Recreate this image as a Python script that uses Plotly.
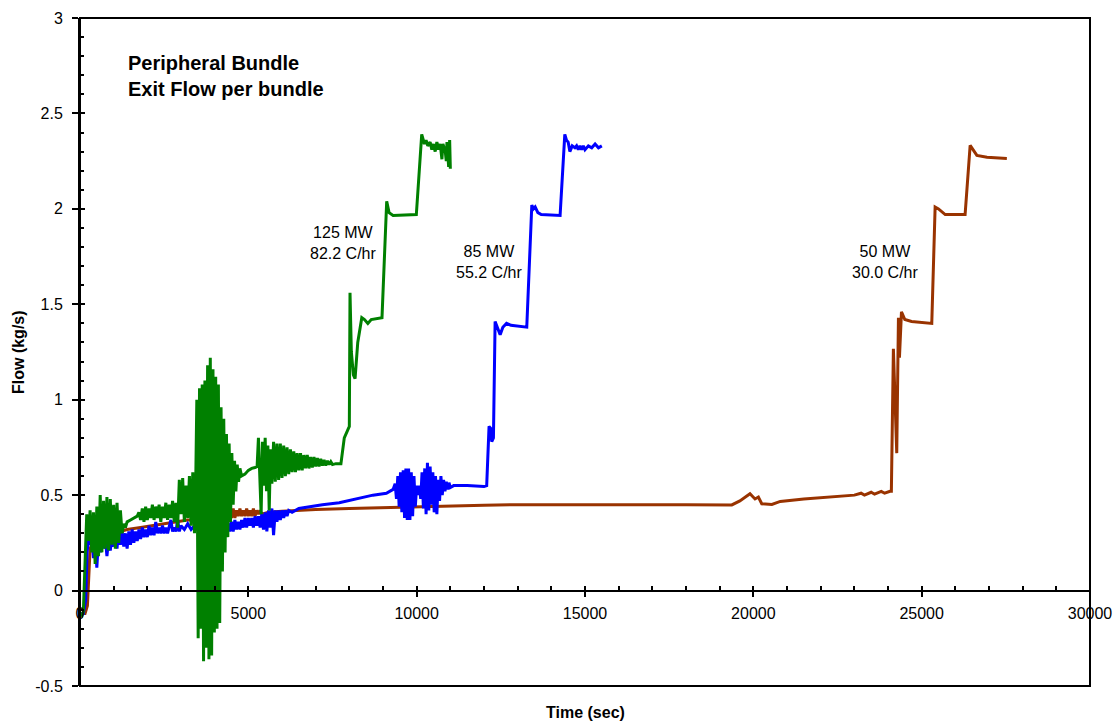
import plotly.graph_objects as go

# ---------------- data ----------------
x_tick_vals = [0, 5000, 10000, 15000, 20000, 25000, 30000]
x_tick_labels = ["0", "5000", "10000", "15000", "20000", "25000", "30000"]
y_tick_vals = [-0.5, 0, 0.5, 1, 1.5, 2, 2.5, 3]
y_tick_labels = ["-0.5", "0", "0.5", "1", "1.5", "2", "2.5", "3"]

# 125 MW run (green): (time s, flow kg/s)
green_125mw = [
    (0, -0.12), (60, -0.13), (100, -0.11), (130, 0.05), (160, 0.30), (200, 0.40), (250, 0.26),
    (300, 0.42), (350, 0.20), (400, 0.41), (450, 0.14), (500, 0.44), (550, 0.18), (600, 0.50),
    (650, 0.20), (700, 0.47), (750, 0.22), (800, 0.49), (850, 0.21), (900, 0.48), (950, 0.24),
    (1000, 0.45), (1050, 0.22), (1100, 0.46), (1150, 0.25), (1200, 0.42), (1250, 0.30),
    (1300, 0.35), (1350, 0.33), (1400, 0.36), (1500, 0.37), (1600, 0.38), (1700, 0.39),
    (1750, 0.41), (1800, 0.37), (1850, 0.43), (1900, 0.36), (1950, 0.44), (2000, 0.37),
    (2050, 0.43), (2100, 0.38), (2150, 0.45), (2200, 0.37), (2250, 0.44), (2300, 0.38),
    (2350, 0.45), (2400, 0.36), (2450, 0.44), (2500, 0.38), (2550, 0.46), (2600, 0.37),
    (2650, 0.45), (2700, 0.38), (2750, 0.47), (2800, 0.36), (2850, 0.46), (2900, 0.33),
    (2950, 0.58), (3000, 0.40), (3050, 0.59), (3100, 0.36), (3150, 0.55), (3200, 0.38),
    (3250, 0.60), (3300, 0.34), (3350, 0.62), (3400, 0.30), (3440, 0.60),
    (3470, 1.00), (3510, -0.25), (3550, 1.06), (3590, -0.20), (3630, 1.08), (3670, -0.37),
    (3710, 1.10), (3750, -0.30), (3790, 1.18), (3830, -0.36), (3870, 1.22), (3910, -0.34),
    (3950, 1.16), (3990, -0.22), (4030, 1.12), (4070, -0.20), (4110, 1.08), (4150, -0.17),
    (4190, 0.96), (4230, 0.10), (4270, 0.90), (4310, 0.20), (4350, 0.82), (4390, 0.28),
    (4430, 0.77), (4470, 0.36), (4510, 0.72), (4550, 0.45), (4590, 0.68), (4630, 0.52),
    (4670, 0.66), (4710, 0.57), (4750, 0.64), (4800, 0.60), (4900, 0.61), (5000, 0.63),
    (5100, 0.64), (5200, 0.645), (5260, 0.65),
    (5300, 0.80), (5340, 0.54), (5380, 0.40), (5420, 0.78), (5460, 0.55), (5500, 0.80),
    (5540, 0.52), (5580, 0.76), (5620, 0.42), (5660, 0.74), (5700, 0.56), (5750, 0.78),
    (5800, 0.57), (5850, 0.77), (5900, 0.58), (5950, 0.77), (6000, 0.59), (6050, 0.76),
    (6100, 0.60), (6150, 0.75), (6200, 0.61), (6250, 0.74), (6300, 0.62), (6350, 0.73),
    (6400, 0.62), (6450, 0.72), (6500, 0.63), (6550, 0.72), (6600, 0.63), (6650, 0.71),
    (6700, 0.64), (6750, 0.71), (6800, 0.64), (6850, 0.70), (6900, 0.645), (6950, 0.70),
    (7000, 0.65), (7050, 0.695), (7100, 0.65), (7150, 0.69), (7200, 0.655), (7250, 0.685),
    (7300, 0.655), (7350, 0.68), (7400, 0.66), (7450, 0.675), (7500, 0.66), (7600, 0.665),
    (7750, 0.665), (7850, 0.80), (7950, 0.84), (8000, 0.86), (8020, 1.56), (8060, 1.25),
    (8120, 1.13), (8170, 1.11), (8250, 1.30), (8370, 1.43), (8450, 1.42), (8550, 1.40),
    (8650, 1.42), (8970, 1.43), (9110, 2.04), (9180, 1.98), (9300, 1.965), (9990, 1.97),
    (10150, 2.39), (10230, 2.34), (10280, 2.36), (10330, 2.33), (10400, 2.35), (10450, 2.31),
    (10500, 2.34), (10550, 2.30), (10600, 2.35), (10650, 2.31), (10700, 2.34), (10750, 2.26),
    (10780, 2.34), (10850, 2.30), (10880, 2.25), (10900, 2.35), (10950, 2.22), (10980, 2.36),
    (11000, 2.21),
]

# 85 MW run (blue)
blue_85mw = [
    (0, -0.12), (100, -0.12), (170, -0.05), (210, 0.20), (250, 0.27), (300, 0.24), (350, 0.30),
    (400, 0.17), (450, 0.28), (500, 0.12), (550, 0.27), (600, 0.20), (650, 0.30), (700, 0.22),
    (750, 0.28), (800, 0.18), (850, 0.27), (900, 0.21), (950, 0.29), (1000, 0.23), (1050, 0.32),
    (1100, 0.22), (1150, 0.33), (1200, 0.24), (1250, 0.31), (1300, 0.23), (1350, 0.30),
    (1400, 0.22), (1450, 0.31), (1500, 0.24), (1550, 0.32), (1600, 0.25), (1650, 0.31),
    (1700, 0.26), (1750, 0.32), (1800, 0.27), (1850, 0.33), (1900, 0.28), (1950, 0.32),
    (2000, 0.28), (2050, 0.34), (2100, 0.29), (2150, 0.33), (2200, 0.29), (2250, 0.36),
    (2300, 0.30), (2350, 0.33), (2400, 0.30), (2450, 0.34), (2500, 0.30), (2550, 0.33),
    (2600, 0.30), (2700, 0.37), (2750, 0.31), (2800, 0.33), (2850, 0.31), (2900, 0.37),
    (2950, 0.31), (3000, 0.34), (3100, 0.32), (3200, 0.35), (3300, 0.32), (3400, 0.34),
    (3500, 0.32), (3600, 0.33), (3800, 0.33), (4000, 0.34), (4200, 0.33), (4400, 0.35),
    (4450, 0.31), (4500, 0.36), (4550, 0.31), (4600, 0.37), (4650, 0.32), (4700, 0.36),
    (4750, 0.32), (4800, 0.37), (4850, 0.33), (4900, 0.38), (4950, 0.33), (5000, 0.38),
    (5050, 0.34), (5100, 0.38), (5150, 0.33), (5200, 0.39), (5250, 0.34), (5300, 0.39),
    (5350, 0.33), (5400, 0.40), (5450, 0.32), (5500, 0.41), (5550, 0.31), (5600, 0.42),
    (5650, 0.33), (5700, 0.43), (5750, 0.29), (5800, 0.42), (5850, 0.36), (5900, 0.42),
    (5950, 0.37), (6000, 0.42), (6050, 0.38), (6100, 0.42), (6150, 0.39), (6200, 0.42),
    (6300, 0.41), (6500, 0.43), (6800, 0.44), (7200, 0.45), (7700, 0.46), (8200, 0.48),
    (8700, 0.50), (9100, 0.51), (9300, 0.53),
    (9360, 0.56), (9400, 0.48), (9440, 0.60), (9480, 0.44), (9520, 0.62), (9560, 0.41),
    (9600, 0.63), (9640, 0.38), (9680, 0.64), (9720, 0.37), (9760, 0.64), (9800, 0.37),
    (9840, 0.62), (9880, 0.39), (9920, 0.60), (9960, 0.44), (10000, 0.55), (10040, 0.50),
    (10080, 0.55), (10120, 0.48), (10160, 0.62), (10200, 0.43), (10240, 0.64), (10280, 0.40),
    (10320, 0.67), (10360, 0.42), (10400, 0.65), (10440, 0.45), (10480, 0.62), (10520, 0.41),
    (10560, 0.60), (10600, 0.40), (10640, 0.58), (10680, 0.47), (10720, 0.60), (10760, 0.50),
    (10800, 0.58), (10840, 0.52), (10880, 0.57), (10920, 0.53), (10960, 0.565), (11000, 0.54),
    (11100, 0.55), (11500, 0.55), (12000, 0.545), (12080, 0.55), (12150, 0.86), (12200, 0.85),
    (12230, 0.78), (12280, 0.80), (12330, 1.41), (12400, 1.38), (12480, 1.34), (12560, 1.38),
    (12670, 1.40), (12800, 1.39), (13270, 1.38), (13420, 2.02), (13470, 2.00), (13520, 2.01),
    (13600, 1.98), (13700, 1.97), (14260, 1.965), (14400, 2.39), (14450, 2.36), (14500, 2.35),
    (14550, 2.30), (14620, 2.33), (14700, 2.32), (14750, 2.33), (14800, 2.31), (14850, 2.33),
    (14900, 2.31), (14950, 2.33), (15000, 2.31), (15100, 2.33), (15200, 2.32), (15300, 2.34),
    (15400, 2.32), (15500, 2.33),
]

# 50 MW run (brown)
brown_50mw = [
    (0, -0.12), (150, -0.12), (220, -0.08), (260, 0.10), (300, 0.22), (400, 0.26), (600, 0.28),
    (800, 0.29), (1000, 0.30), (1400, 0.32), (1800, 0.33), (2500, 0.35), (3200, 0.37),
    (3700, 0.37), (4200, 0.38), (4400, 0.38), (4450, 0.42), (4500, 0.38), (4550, 0.43),
    (4600, 0.38), (4650, 0.42), (4700, 0.39), (4750, 0.43), (4800, 0.39), (4850, 0.42),
    (4900, 0.39), (4950, 0.43), (5000, 0.39), (5050, 0.42), (5100, 0.39), (5150, 0.43),
    (5200, 0.39), (5250, 0.42), (5300, 0.40), (5350, 0.42), (5400, 0.40), (5600, 0.41),
    (6000, 0.415), (6500, 0.42), (7000, 0.425), (8000, 0.43), (9000, 0.435), (10000, 0.44),
    (11000, 0.445), (12000, 0.447), (13000, 0.45), (14000, 0.45), (15000, 0.453),
    (16000, 0.453), (17000, 0.452), (18000, 0.45), (19360, 0.449), (19600, 0.47),
    (19900, 0.507), (20050, 0.48), (20150, 0.49), (20250, 0.455), (20550, 0.451),
    (20800, 0.467), (21500, 0.48), (22500, 0.495), (23000, 0.50), (23200, 0.51),
    (23300, 0.50), (23500, 0.515), (23600, 0.505), (23800, 0.52), (23900, 0.51),
    (24060, 0.52), (24100, 0.52), (24160, 1.267), (24260, 0.72), (24310, 1.43),
    (24340, 1.22), (24400, 1.46), (24500, 1.42), (24700, 1.41), (25300, 1.40),
    (25400, 2.01), (25500, 2.00), (25700, 1.97), (26290, 1.97), (26440, 2.333),
    (26640, 2.28), (26940, 2.27), (27530, 2.264),
]

series_names = ["50 MW", "85 MW", "125 MW"]
series_colors = ["#993300", "#0000FF", "#008000"]
series_data = [brown_50mw, blue_85mw, green_125mw]

# labels: (text, time, flow)
run_labels = [
    ("125 MW<br>82.2 C/hr", 7810, 1.82),
    ("85 MW<br>55.2 C/hr", 12140, 1.72),
    ("50 MW<br>30.0 C/hr", 23900, 1.72),
]
chart_title = "Peripheral Bundle<br>Exit Flow per bundle"
x_title = "Time (sec)"
y_title = "Flow (kg/s)"

# ---------------- figure ----------------
FONT = "Liberation Sans, Arial, Helvetica, sans-serif"
X_RANGE = [0, 30000]
Y_RANGE = [-0.5, 3]
zero_pos = (0 - Y_RANGE[0]) / (Y_RANGE[1] - Y_RANGE[0])

fig = go.Figure()
for name, color, pts in zip(series_names, series_colors, series_data):
    fig.add_trace(go.Scatter(
        x=[p[0] for p in pts], y=[p[1] for p in pts], mode="lines", name=name,
        line=dict(color=color, width=3), hoverinfo="x+y+name"))

# helper trace so the overlay axes (crossing tick halves) are drawn
fig.add_trace(go.Scatter(x=[None], y=[None], xaxis="x2", yaxis="y2", showlegend=False))

fig.update_layout(
    template="none",
    width=1116, height=723,
    margin=dict(l=80, r=26, t=18, b=37, autoexpand=False),
    paper_bgcolor="white", plot_bgcolor="white",
    showlegend=False,
    font=dict(family=FONT, color="black", size=16),
    xaxis=dict(
        range=X_RANGE, anchor="free", position=zero_pos, automargin=False,
        showline=True, linecolor="black", linewidth=2,
        ticks="outside", ticklen=5, tickwidth=2, tickcolor="black",
        tickvals=x_tick_vals, ticktext=x_tick_labels, ticklabelstandoff=3,
        tickfont=dict(size=16, family=FONT, color="black"),
        minor=dict(dtick=1000, tick0=0, ticks="inside", ticklen=4, tickwidth=2, tickcolor="black"),
        showgrid=False, zeroline=False,
    ),
    xaxis2=dict(
        range=X_RANGE, overlaying="x", anchor="free", position=zero_pos, automargin=False,
        showline=False, ticks="inside", ticklen=5, tickwidth=2, tickcolor="black",
        tickvals=x_tick_vals, showticklabels=False, showgrid=False, zeroline=False,
    ),
    yaxis=dict(
        range=Y_RANGE, automargin=False,
        showline=True, linecolor="black", linewidth=2,
        ticks="outside", ticklen=6, tickwidth=2, tickcolor="black",
        tickvals=y_tick_vals, ticktext=y_tick_labels, ticklabelstandoff=6,
        tickfont=dict(size=16, family=FONT, color="black"),
        minor=dict(dtick=0.1, tick0=0, ticks="inside", ticklen=4, tickwidth=2, tickcolor="black"),
        showgrid=False, zeroline=False,
    ),
    yaxis2=dict(
        range=Y_RANGE, overlaying="y", anchor="x2", side="left", automargin=False,
        showline=False, ticks="inside", ticklen=5, tickwidth=2, tickcolor="black",
        tickvals=y_tick_vals, showticklabels=False, showgrid=False, zeroline=False,
    ),
    shapes=[dict(type="rect", xref="paper", yref="paper", x0=0, x1=1, y0=0, y1=1,
                 line=dict(color="black", width=2), fillcolor="rgba(0,0,0,0)", layer="above")],
)

annotations = [
    dict(text="<b>" + chart_title.replace("<br>", "</b><br><b>") + "</b>",
         x=1370, y=2.695, xref="x", yref="y", xanchor="left", yanchor="middle",
         align="left", showarrow=False, font=dict(size=20, family=FONT, color="black")),
    dict(text="<b>" + x_title + "</b>", x=0.5, y=-0.0404, xref="paper", yref="paper",
         xanchor="center", yanchor="middle", showarrow=False,
         font=dict(size=16, family=FONT, color="black")),
    dict(text="<b>" + y_title + "</b>", x=-0.0614, y=0.5, xref="paper", yref="paper",
         xanchor="center", yanchor="middle", textangle=-90, showarrow=False,
         font=dict(size=16, family=FONT, color="black")),
]
for txt, tx, ty in run_labels:
    annotations.append(dict(text=txt, x=tx, y=ty, xref="x", yref="y", xanchor="center",
                            yanchor="middle", align="center", showarrow=False,
                            font=dict(size=16, family=FONT, color="black")))
fig.update_layout(annotations=annotations)

fig.write_html(
    "out.html",
    config={"displayModeBar": False},
    post_script="document.body.style.margin='0';document.body.style.overflow='hidden';",
)
